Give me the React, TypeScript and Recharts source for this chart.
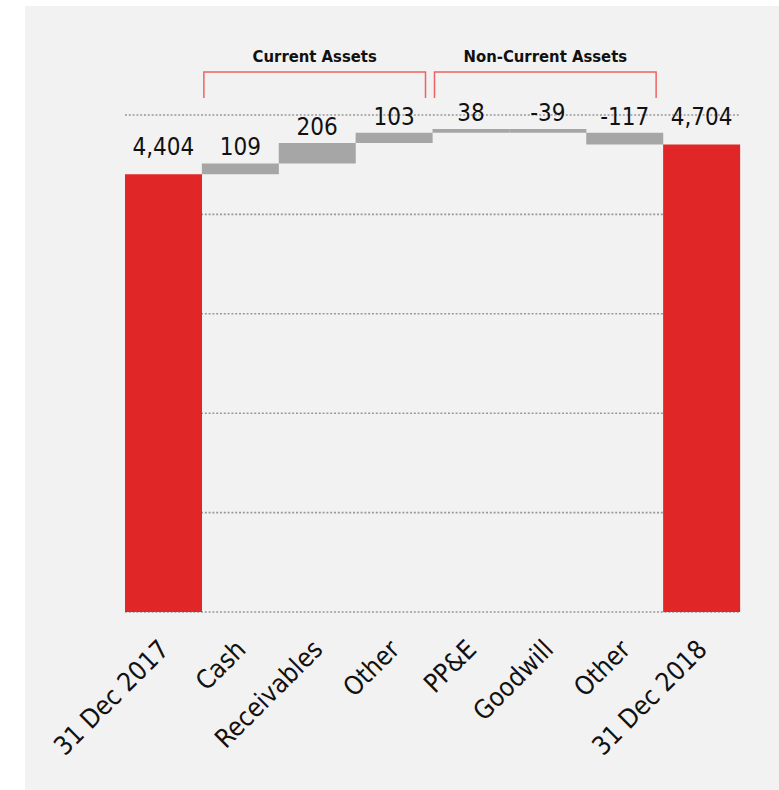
import React from 'react';
import { ComposedChart, Bar, Line, XAxis, YAxis, CartesianGrid, Cell, LabelList } from 'recharts';

// categories and the step values of the waterfall
const categories = ['31 Dec 2017', 'Cash', 'Receivables', 'Other', 'PP&E', 'Goodwill', 'Other', '31 Dec 2018'];
const values = [4404, 109, 206, 103, 38, -39, -117, 4704];
const isTotal = [true, false, false, false, false, false, false, true];
const yTicks = [0, 1000, 2000, 3000, 4000, 5000];

const groupLabels = ['Current Assets', 'Non-Current Assets'];
const groupFrom = [1, 4];
const groupTo = [3, 6];

const FONT = '"DejaVu Sans Condensed", "DejaVu Sans", sans-serif';
const RED = '#e02626';
const GREY = '#a6a6a6';

const W = 779;
const H = 790;
const M = { top: 115, right: 39, bottom: 0, left: 125 };
const AXIS_H = 178;

// build the waterfall rows
let running = 0;
const rows: any[] = categories.map((name, i) => {
  const v = values[i];
  if (isTotal[i]) {
    running = v;
    return { key: i, name, base: 0, size: v, top: v, total: true, text: v.toLocaleString('en-US') };
  }
  const start = running;
  const end = running + v;
  running = end;
  return { key: i, name, base: Math.min(start, end), size: Math.abs(v), top: Math.max(start, end), total: false, text: String(v) };
});
// totals carry their label at the height of the neighbouring step
rows.forEach((r, i) => {
  if (!r.total) {
    r.labelPos = r.top;
  } else {
    const n = i === 0 ? rows[1] : rows[i - 1];
    r.labelPos = Math.max(r.top, n.top);
  }
});

const renderLabel = (props: any) => {
  const { x, y, index } = props;
  return (
    <text x={x} y={y - 8} textAnchor="middle" fontFamily={FONT} fontSize={24} fill="#111">
      {rows[index].text}
    </text>
  );
};

const renderTick = (props: any) => {
  const { x, y, payload } = props;
  const tx = x + 7;
  const ty = y + 31;
  return (
    <text x={tx} y={ty} transform={`rotate(-45, ${tx}, ${ty})`} textAnchor="end" fontFamily={FONT} fontSize={26} fill="#111">
      {categories[payload.value]}
    </text>
  );
};

const Brackets = () => {
  const plotW = W - M.left - M.right;
  const band = plotW / categories.length;
  return (
    <svg width={W} height={H} style={{ position: 'absolute', left: 0, top: 0, pointerEvents: 'none' }}>
      {groupLabels.map((label, g) => {
        const x1 = M.left + groupFrom[g] * band + 2;
        const x2 = M.left + (groupTo[g] + 1) * band - 7;
        return (
          <g key={label}>
            <path d={`M${x1},98 L${x1},72 L${x2},72 L${x2},98`} fill="none" stroke="#f06262" strokeWidth={1.5} />
            <text x={(x1 + x2) / 2} y={62} textAnchor="middle" fontFamily={FONT} fontWeight="bold" fontSize={16.5} fill="#111">
              {label}
            </text>
          </g>
        );
      })}
    </svg>
  );
};

export default function App() {
  return (
    <div style={{ position: 'absolute', left: 0, top: 0, width: W, height: H }}>
      <div style={{ position: 'absolute', left: 25, top: 6, width: W - 25, height: H - 6, background: '#f2f2f2' }} />
      <div style={{ position: 'absolute', left: 0, top: 0 }}>
        <ComposedChart width={W} height={H} data={rows} margin={M} barCategoryGap={0} barGap={0}>
          <CartesianGrid vertical={false} stroke="#999999" strokeWidth={1.6} strokeDasharray="2 1.8" />
          <XAxis dataKey="key" height={AXIS_H} axisLine={false} tickLine={false} interval={0} tick={renderTick} />
          <YAxis hide domain={[0, 5000]} ticks={yTicks} />
          <Bar dataKey="base" stackId="w" fill="transparent" isAnimationActive={false} />
          <Bar dataKey="size" stackId="w" isAnimationActive={false}>
            {rows.map((r) => (
              <Cell key={r.key} fill={r.total ? RED : GREY} />
            ))}
          </Bar>
          <Line dataKey="labelPos" stroke="none" dot={false} activeDot={false} isAnimationActive={false} legendType="none">
            <LabelList dataKey="labelPos" content={renderLabel} />
          </Line>
        </ComposedChart>
      </div>
      <Brackets />
    </div>
  );
}
